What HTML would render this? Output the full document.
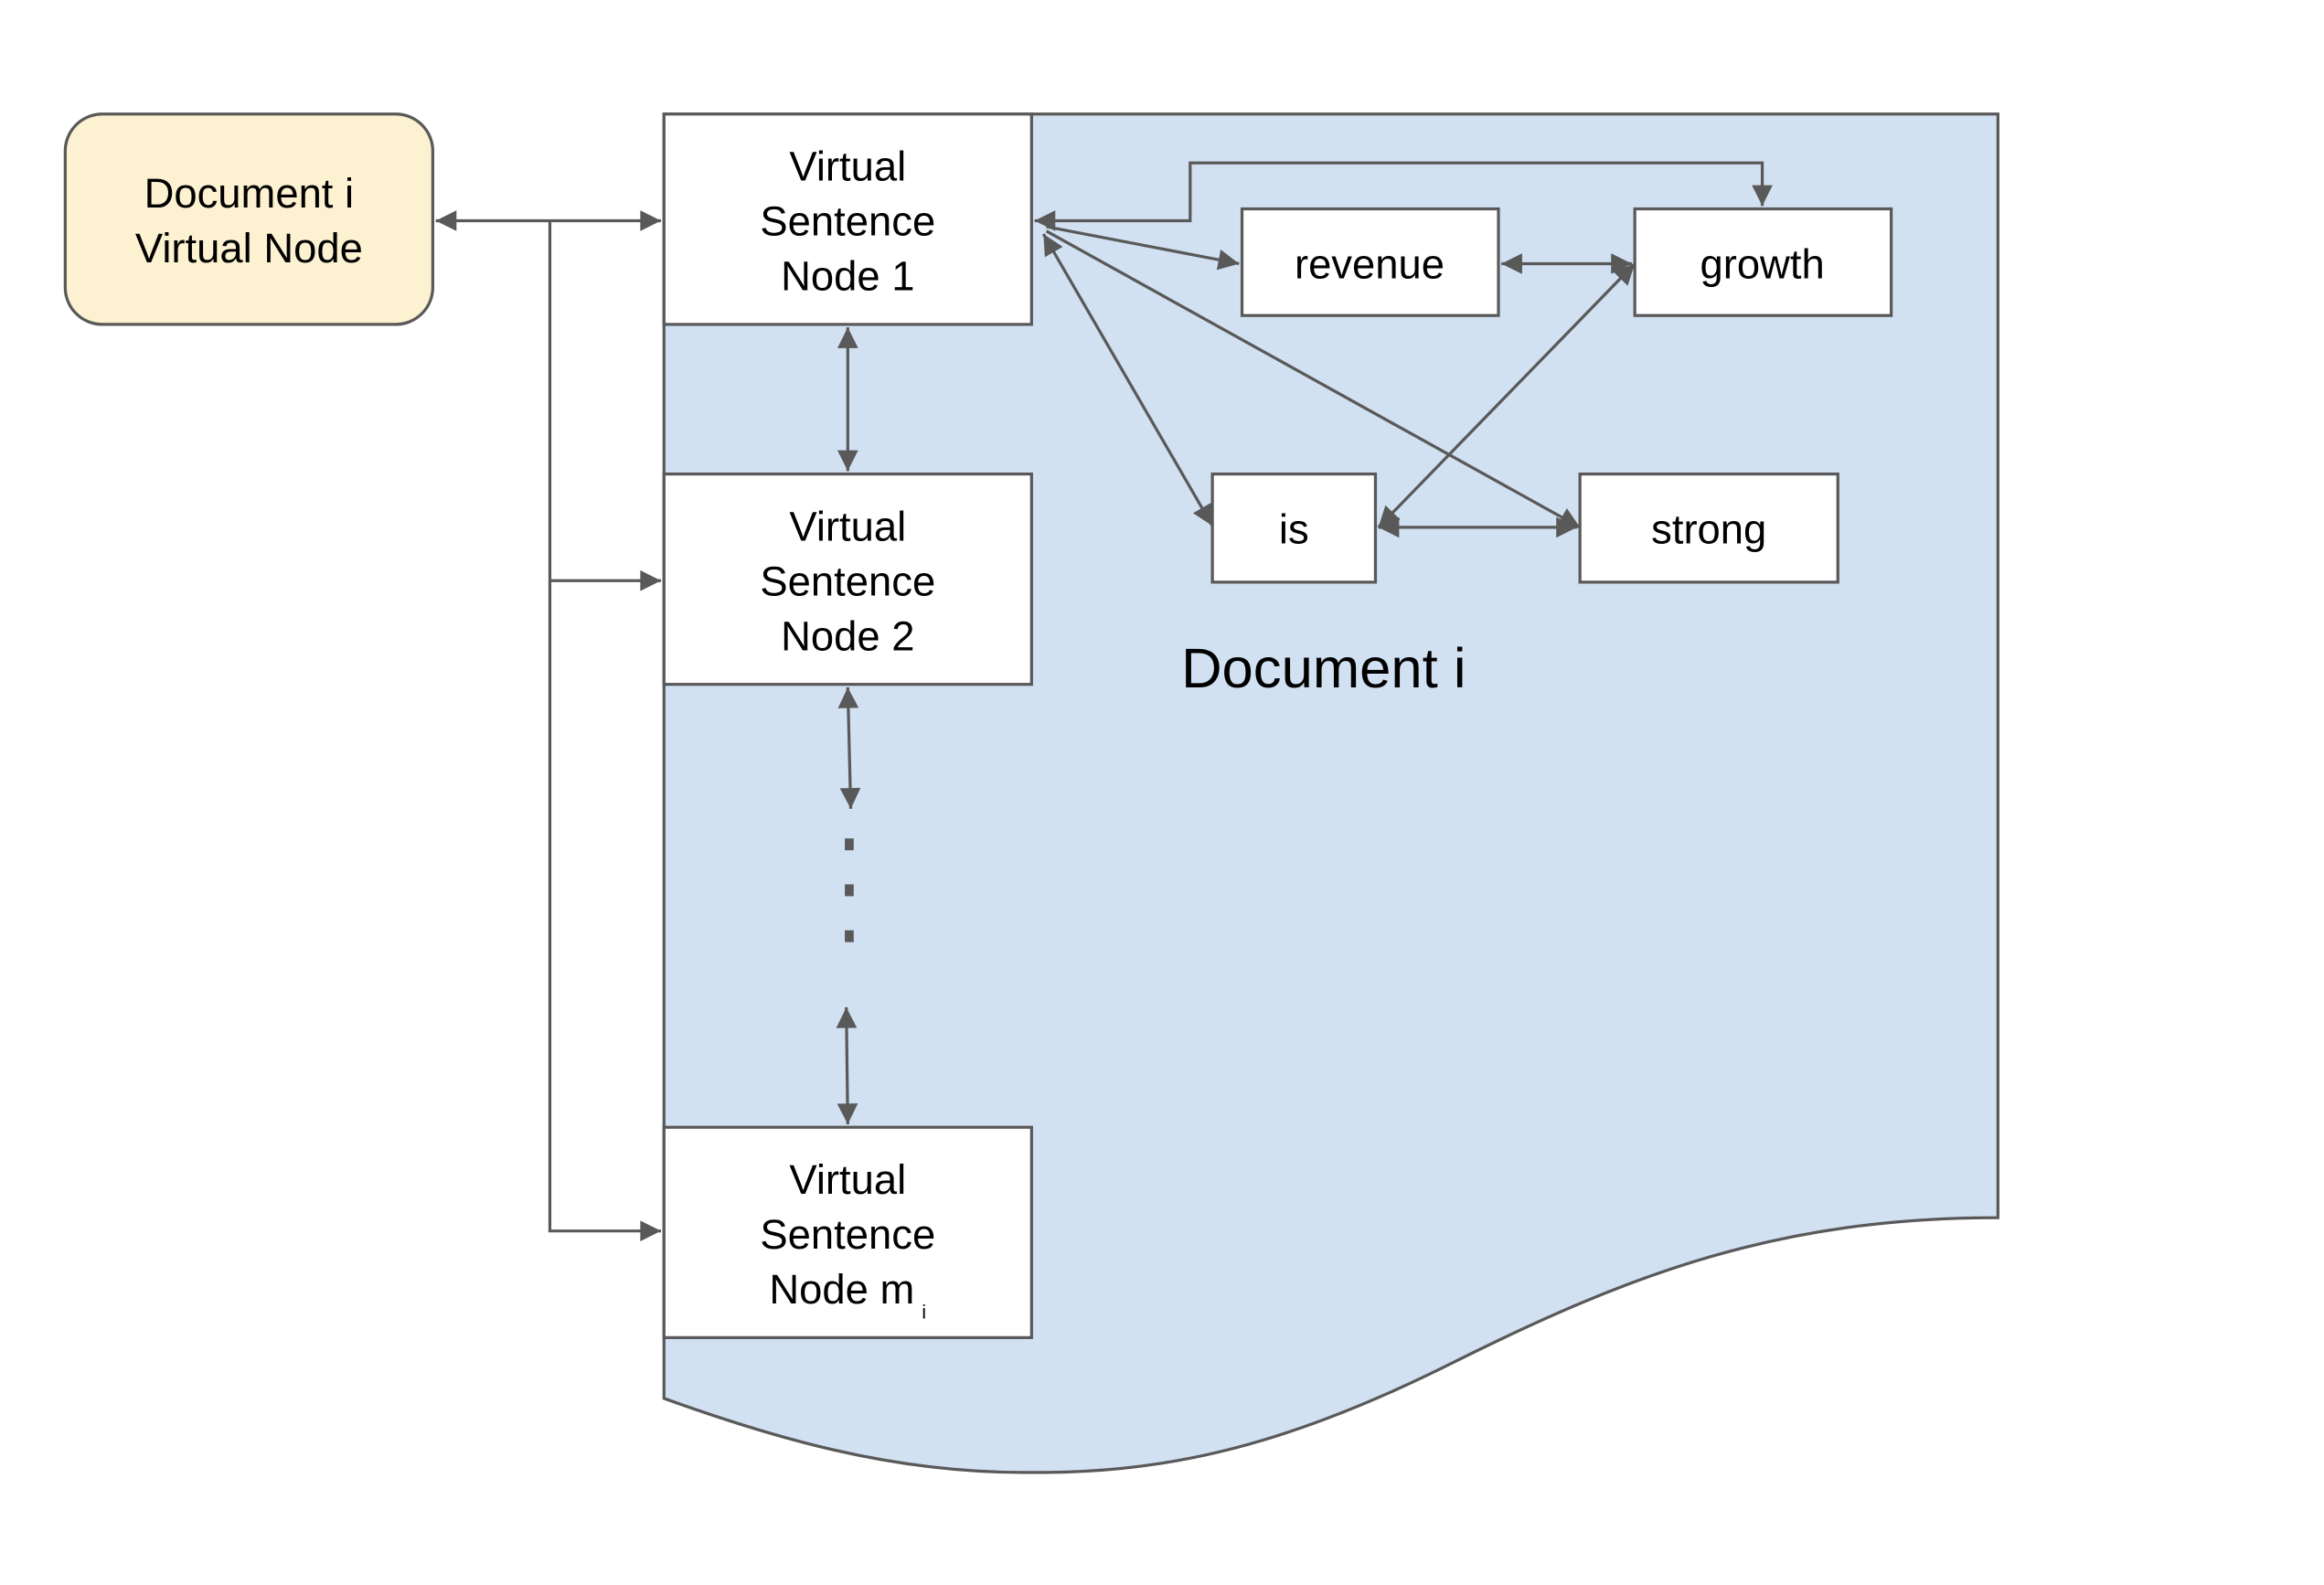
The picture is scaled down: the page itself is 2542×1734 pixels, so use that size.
<!DOCTYPE html>
<html><head><meta charset="utf-8"><style>
html,body{margin:0;padding:0;background:#fff;}
svg{display:block;}
text{font-family:"Liberation Sans",sans-serif;fill:#000;}
</style></head><body>
<svg width="2542" height="1734" viewBox="0 0 1568 1070" preserveAspectRatio="none" xmlns="http://www.w3.org/2000/svg">
<defs>
<marker id="b" viewBox="0 0 10 10" refX="10" refY="5" markerWidth="21" markerHeight="14" markerUnits="userSpaceOnUse" orient="auto-start-reverse">
<path d="M0,0 L10,5 L0,10 z" fill="#595959"/>
</marker>
</defs>
<path d="M448,77 H1348 V822 C1200,822 1100,860 980,920 C860,980 780,995 690,994 C600,994 520,970 448,944 Z" fill="#d2e1f2" stroke="#595959" stroke-width="2"/>
<rect x="44" y="77" width="248" height="142" rx="25" fill="#fcf1d0" stroke="#595959" stroke-width="2"/>
<text x="168" y="140" font-size="28" text-anchor="middle">Document i</text>
<text x="168" y="177" font-size="28" text-anchor="middle">Virtual Node</text>
<g fill="#fff" stroke="#595959" stroke-width="2">
<rect x="448" y="77" width="248" height="142"/>
<rect x="448" y="320" width="248" height="142"/>
<rect x="448" y="761" width="248" height="142"/>
<rect x="838" y="141" width="173" height="72"/>
<rect x="1103" y="141" width="173" height="72"/>
<rect x="818" y="320" width="110" height="73"/>
<rect x="1066" y="320" width="174" height="73"/>
</g>
<g font-size="28" text-anchor="middle">
<text x="572" y="122">Virtual</text><text x="572" y="159">Sentence</text><text x="572" y="196">Node 1</text>
<text x="572" y="365">Virtual</text><text x="572" y="402">Sentence</text><text x="572" y="439">Node 2</text>
<text x="572" y="806">Virtual</text><text x="572" y="843">Sentence</text><text x="568" y="880">Node m</text>
<text x="924" y="188">revenue</text>
<text x="1189" y="188">growth</text>
<text x="873" y="367">is</text>
<text x="1153" y="367">strong</text>
</g>
<text x="622" y="890" font-size="13">i</text>
<text x="797" y="464" font-size="38">Document i</text>
<g stroke="#595959" stroke-width="2" fill="none">
<line x1="294" y1="149" x2="446" y2="149" marker-start="url(#b)" marker-end="url(#b)"/>
<polyline points="371,149 371,831 446,831" marker-end="url(#b)"/>
<line x1="371" y1="392" x2="446" y2="392" marker-end="url(#b)"/>
<line x1="572" y1="221" x2="572" y2="318" marker-start="url(#b)" marker-end="url(#b)"/>
<line x1="572" y1="464" x2="574" y2="546" marker-start="url(#b)" marker-end="url(#b)"/>
<line x1="571" y1="680" x2="572" y2="759" marker-start="url(#b)" marker-end="url(#b)"/>
<polyline points="698,149 803,149 803,110 1189,110 1189,139" marker-start="url(#b)" marker-end="url(#b)"/>
<line x1="706" y1="153" x2="836" y2="178" marker-end="url(#b)"/>
<line x1="704" y1="158" x2="818" y2="355" marker-start="url(#b)" marker-end="url(#b)"/>
<line x1="706" y1="156" x2="1066" y2="356" marker-end="url(#b)"/>
<line x1="1013" y1="178" x2="1101" y2="178" marker-start="url(#b)" marker-end="url(#b)"/>
<line x1="930" y1="356" x2="1103" y2="178" marker-start="url(#b)" marker-end="url(#b)"/>
<line x1="930" y1="356" x2="1064" y2="356" marker-start="url(#b)" marker-end="url(#b)"/>
</g>
<g fill="#595959">
<rect x="570" y="566" width="6" height="8"/>
<rect x="570" y="597" width="6" height="8"/>
<rect x="570" y="628" width="6" height="8"/>
</g>
</svg>
</body></html>
